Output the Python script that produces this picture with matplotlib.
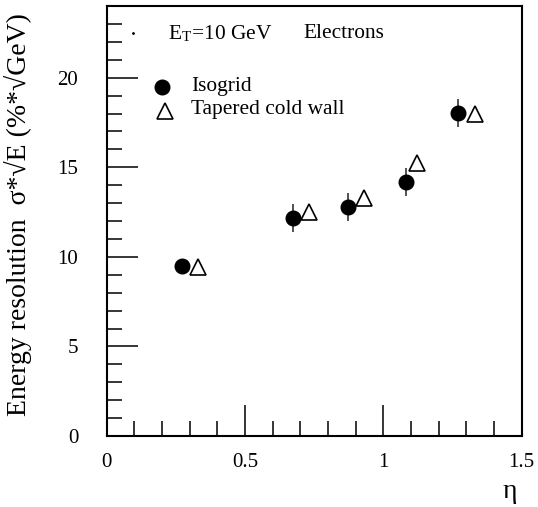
import numpy as np
import matplotlib.pyplot as plt
from matplotlib.ticker import MultipleLocator

plt.rcParams['font.family'] = ['Liberation Serif', 'DejaVu Serif']
plt.rcParams['mathtext.fontset'] = 'stix'

# Isogrid
eta_iso = [0.273, 0.672, 0.871, 1.081, 1.268]
res_iso = [9.49, 12.16, 12.77, 14.17, 18.04]
err_iso = [0.3, 0.79, 0.79, 0.78, 0.77]

# Tapered cold wall
eta_tcw = [0.331, 0.731, 0.931, 1.122, 1.331]
res_tcw = [9.45, 12.53, 13.28, 15.26, 18.0]

xticks = [0, 0.5, 1, 1.5]
xtick_labels = ['0', '0.5', '1', '1.5']
yticks = [0, 5, 10, 15, 20]
ytick_labels = ['0', '5', '10', '15', '20']

fig = plt.figure(figsize=(5.38, 5.07), dpi=100)
ax = fig.add_axes([0.1983, 0.140, 0.7714, 0.848])

ax.errorbar(eta_iso, res_iso, yerr=err_iso, fmt='o', color='black',
            markersize=10.5, elinewidth=1.2, ecolor='#333333', capsize=0)
ax.plot(eta_tcw, res_tcw, '^', markerfacecolor='white', markeredgecolor='black',
        markersize=11, markeredgewidth=1.2, linestyle='none')

ax.set_xlim(0, 1.5)
ax.set_ylim(0, 24)
ax.set_xticks(xticks)
ax.set_xticklabels(xtick_labels, fontsize=15)
ax.xaxis.set_minor_locator(MultipleLocator(0.1))
ax.set_yticks(yticks)
ax.set_yticklabels(ytick_labels, fontsize=15)
ax.yaxis.set_minor_locator(MultipleLocator(1))
ax.tick_params(which='major', direction='in', length=22, width=1.1)
ax.tick_params(which='minor', direction='in', length=11, width=1.1)
ax.tick_params(axis='x', which='major', pad=12)
ax.tick_params(axis='y', which='major', pad=20.5)
for s in ax.spines.values():
    s.set_linewidth(1.5)

# legend-style annotations
ax.plot([0.095], [22.5], '.', color='black', markersize=2)
ax.text(0.22, 22.45, r'E$_\mathregular{T}$=10 GeV', fontsize=15.4, va='center')
ax.text(0.71, 22.45, 'Electrons', fontsize=15.4, va='center')
ax.plot([0.2], [19.5], 'o', color='black', markersize=10.5)
ax.text(0.305, 19.5, 'Isogrid', fontsize=15.4, va='center')
ax.plot([0.21], [18.15], '^', markerfacecolor='white', markeredgecolor='black',
        markersize=11, markeredgewidth=1.2)
ax.text(0.305, 18.2, 'Tapered cold wall', fontsize=15.4, va='center')

fig.text(0.948, 0.03, 'η', fontsize=20, ha='center', va='center')
fig.text(0.033, 0.576, 'Energy resolution  σ*√E (%*√GeV)', fontsize=20,
         rotation=90, va='center', ha='center')

plt.savefig('out.png', dpi=100)
